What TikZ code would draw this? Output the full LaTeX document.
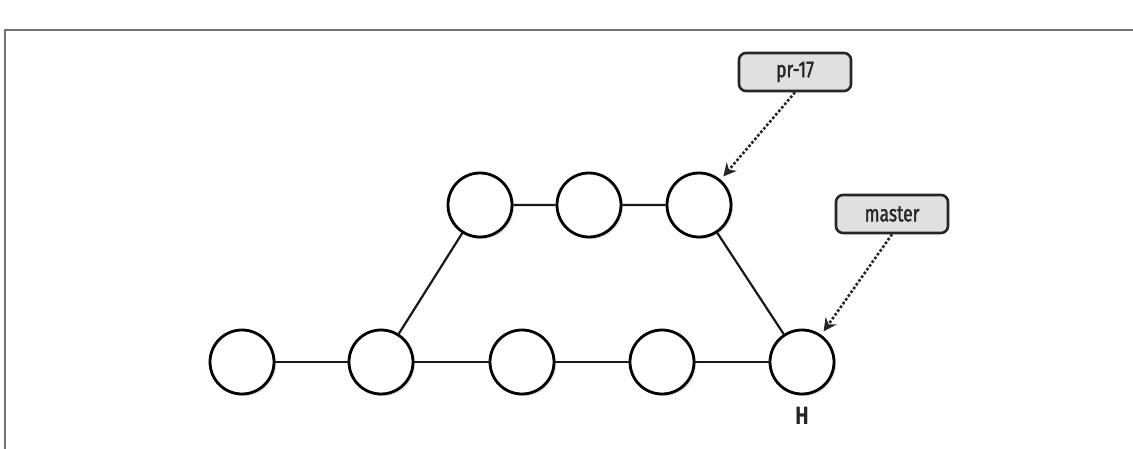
\documentclass[tikz,border=0pt]{standalone}
\usepackage{fontspec}
\setmainfont{Fira Sans}[FakeStretch=0.8]
\newfontfamily\labelfont{Fira Sans}[FakeStretch=0.76,FakeBold=1.5]
\usetikzlibrary{shadows,arrows.meta}
\begin{document}
\begin{tikzpicture}[x=1pt,y=-1pt,
  commit/.style={circle,draw=black,line width=2.8pt,fill=white,minimum size=64pt,inner sep=0pt,
    drop shadow={shadow xshift=2pt,shadow yshift=-2pt,opacity=0.25}},
  edge/.style={line width=2.2pt,draw=black!90},
  refbox/.style={draw=black!85,line width=2.6pt,rounded corners=7pt,fill=black!12,
    minimum width=112pt,minimum height=38pt,font=\labelfont\fontsize{23}{26}\selectfont,text=black!85},
  refarrow/.style={draw=black!85,line width=2.6pt,dotted,-{Stealth[length=13pt,width=13pt]},shorten >=4pt}]
\useasboundingbox (0,0) rectangle (1133,449);
\draw[black!55,line width=1.3pt] (1133,30) -- (5,30) -- (5,449);
\node[commit] (a) at (242,362) {};
\node[commit] (b) at (381,362) {};
\node[commit] (c) at (522,362) {};
\node[commit] (d) at (662,362) {};
\node[commit] (h) at (802,362) {};
\node[commit] (p) at (480,205) {};
\node[commit] (q) at (589,205) {};
\node[commit] (r) at (699,205) {};
\draw[edge] (a) -- (b) -- (c) -- (d) -- (h);
\draw[edge] (b) -- (p) -- (q) -- (r) -- (h);
\node[font=\fontsize{25}{27}\selectfont\bfseries,text=black!85] (hl) at (802,416) {H};
\node[refbox] (pr) at (795,72) {pr-17};
\node[refbox] (ms) at (892,214) {master};
\draw[refarrow] (pr.south) -- (r);
\draw[refarrow] (ms.south) -- (h);
\end{tikzpicture}
\end{document}
